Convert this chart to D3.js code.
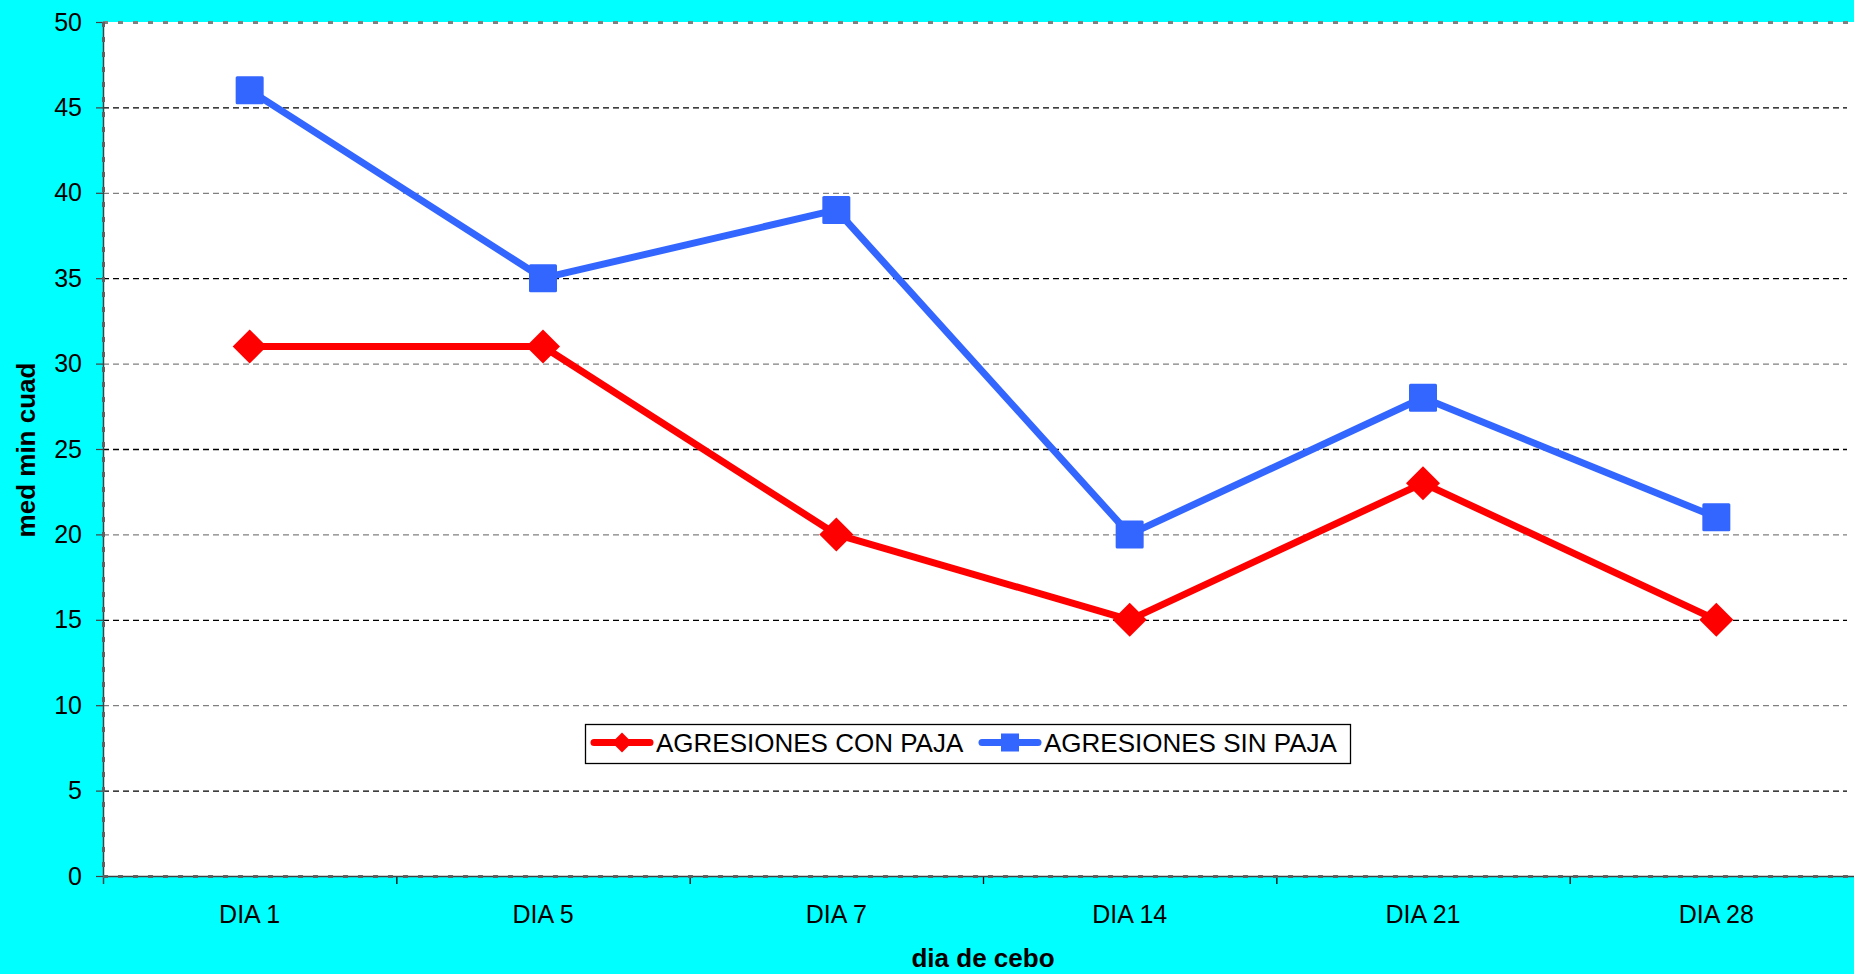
<!DOCTYPE html>
<html><head><meta charset="utf-8">
<script src="https://cdn.jsdelivr.net/npm/d3@7"></script>
<style>html,body{margin:0;padding:0;background:#00FFFF;overflow:hidden}</style>
</head><body>
<svg id="c" width="1854" height="974"></svg>
<script>
const categories = ["DIA 1","DIA 5","DIA 7","DIA 14","DIA 21","DIA 28"];
const conPaja = [31,31,20,15,23,15];
const sinPaja = [46,35,39,20,28,21];
const yTicks = [0,5,10,15,20,25,30,35,40,45,50];
const seriesNames = ["AGRESIONES CON PAJA","AGRESIONES SIN PAJA"];

const svg = d3.select("#c");
const L = 103, R = 1863, T = 22, B = 876;
const x = d3.scaleBand().domain(categories).range([L, R]);
const y = d3.scaleLinear().domain([0,50]).range([B, T]);
const FONT = "Arial, Liberation Sans, sans-serif";

svg.append("rect").attr("width",1854).attr("height",974).attr("fill","#00FFFF");
svg.append("rect").attr("x",L).attr("y",T).attr("width",R-L).attr("height",B-T).attr("fill","#fff");

// gridlines
svg.append("g").selectAll("line").data(yTicks.filter(d=>d>0 && d<50)).join("line")
  .attr("x1",L).attr("x2",R-16).attr("y1",d=>y(d)+0.5).attr("y2",d=>y(d)+0.5)
  .attr("stroke",d=>d%10===0?"#808080":"#000").attr("stroke-width",1.3)
  .attr("stroke-dasharray","6,4");

// top border
svg.append("line").attr("x1",L).attr("x2",1854).attr("y1",T+0.5).attr("y2",T+0.5)
  .attr("stroke","#808080").attr("stroke-width",3).attr("stroke-dasharray","5,10");

// y axis
const ya = svg.append("g").attr("transform",`translate(${L},0)`)
  .call(d3.axisLeft(y).tickValues(yTicks).tickSize(7).tickPadding(14));
ya.select(".domain").remove();
ya.selectAll(".tick line").attr("stroke","#404040").attr("stroke-width",1.2);
ya.selectAll("text").attr("font-family",FONT).attr("font-size",25).attr("fill","#000");
svg.append("line").attr("x1",L+0.5).attr("x2",L+0.5).attr("y1",T).attr("y2",B+8)
  .attr("stroke","#404040").attr("stroke-width",1.5);
svg.append("line").attr("x1",L+0.5).attr("x2",L+0.5).attr("y1",T).attr("y2",B)
  .attr("stroke","#606060").attr("stroke-width",3).attr("stroke-dasharray","5,10");

// x axis
const xa = svg.append("g").attr("transform",`translate(0,${B})`)
  .call(d3.axisBottom(x).tickSize(0).tickPadding(29));
xa.select(".domain").remove();
xa.selectAll("text").attr("font-family",FONT).attr("font-size",25).attr("fill","#000");
svg.append("g").selectAll("line").data(categories.slice(1)).join("line")
  .attr("x1",d=>x(d)+0.5).attr("x2",d=>x(d)+0.5).attr("y1",B).attr("y2",B+8)
  .attr("stroke","#000").attr("stroke-width",1.3);
svg.append("line").attr("x1",L).attr("x2",1854).attr("y1",B+0.5).attr("y2",B+0.5)
  .attr("stroke","#404040").attr("stroke-width",1.5);
svg.append("line").attr("x1",L).attr("x2",1854).attr("y1",B+0.5).attr("y2",B+0.5)
  .attr("stroke","#606060").attr("stroke-width",3).attr("stroke-dasharray","5,10");

// lines
const cx = d => x(d) + x.bandwidth()/2;
const line = d3.line().x((d,i)=>cx(categories[i])).y(d=>y(d));
svg.append("path").datum(sinPaja).attr("d",line).attr("fill","none")
  .attr("stroke","#3366FF").attr("stroke-width",7).attr("stroke-linejoin","round");
svg.append("path").datum(conPaja).attr("d",line).attr("fill","none")
  .attr("stroke","#FF0000").attr("stroke-width",7).attr("stroke-linejoin","round");

svg.append("g").selectAll("rect").data(sinPaja).join("rect")
  .attr("x",(d,i)=>cx(categories[i])-14).attr("y",d=>y(d)-14)
  .attr("width",28).attr("height",28).attr("rx",1.5).attr("fill","#3366FF");
const diamond = "M0,-17L17,0L0,17L-17,0Z";
svg.append("g").selectAll("path").data(conPaja).join("path")
  .attr("transform",(d,i)=>`translate(${cx(categories[i])},${y(d)})`)
  .attr("d",diamond).attr("fill","#FF0000");

// legend
const lg = svg.append("g");
lg.append("rect").attr("x",585.5).attr("y",724.5).attr("width",765).attr("height",39)
  .attr("fill","#fff").attr("stroke","#000").attr("stroke-width",1.3);
const ly = 742.5;
lg.append("line").attr("x1",594).attr("x2",650).attr("y1",ly).attr("y2",ly)
  .attr("stroke","#FF0000").attr("stroke-width",7).attr("stroke-linecap","round");
lg.append("path").attr("transform",`translate(622,${ly})`).attr("d","M0,-10L10,0L0,10L-10,0Z").attr("fill","#FF0000");
lg.append("line").attr("x1",982).attr("x2",1038).attr("y1",ly).attr("y2",ly)
  .attr("stroke","#3366FF").attr("stroke-width",7).attr("stroke-linecap","round");
lg.append("rect").attr("x",1001).attr("y",ly-9).attr("width",18).attr("height",18).attr("fill","#3366FF");
lg.append("text").attr("x",656).attr("y",752).text(seriesNames[0])
  .attr("font-family",FONT).attr("font-size",26);
lg.append("text").attr("x",1044).attr("y",752).text(seriesNames[1])
  .attr("font-family",FONT).attr("font-size",26);

// titles
svg.append("text").attr("x",983).attr("y",967).attr("text-anchor","middle")
  .attr("font-family",FONT).attr("font-weight","bold").attr("font-size",26)
  .text("dia de cebo");
svg.append("text").attr("transform","translate(35,450) rotate(-90)").attr("text-anchor","middle")
  .attr("font-family",FONT).attr("font-weight","bold").attr("font-size",26)
  .text("med min cuad");
</script>
</body></html>
